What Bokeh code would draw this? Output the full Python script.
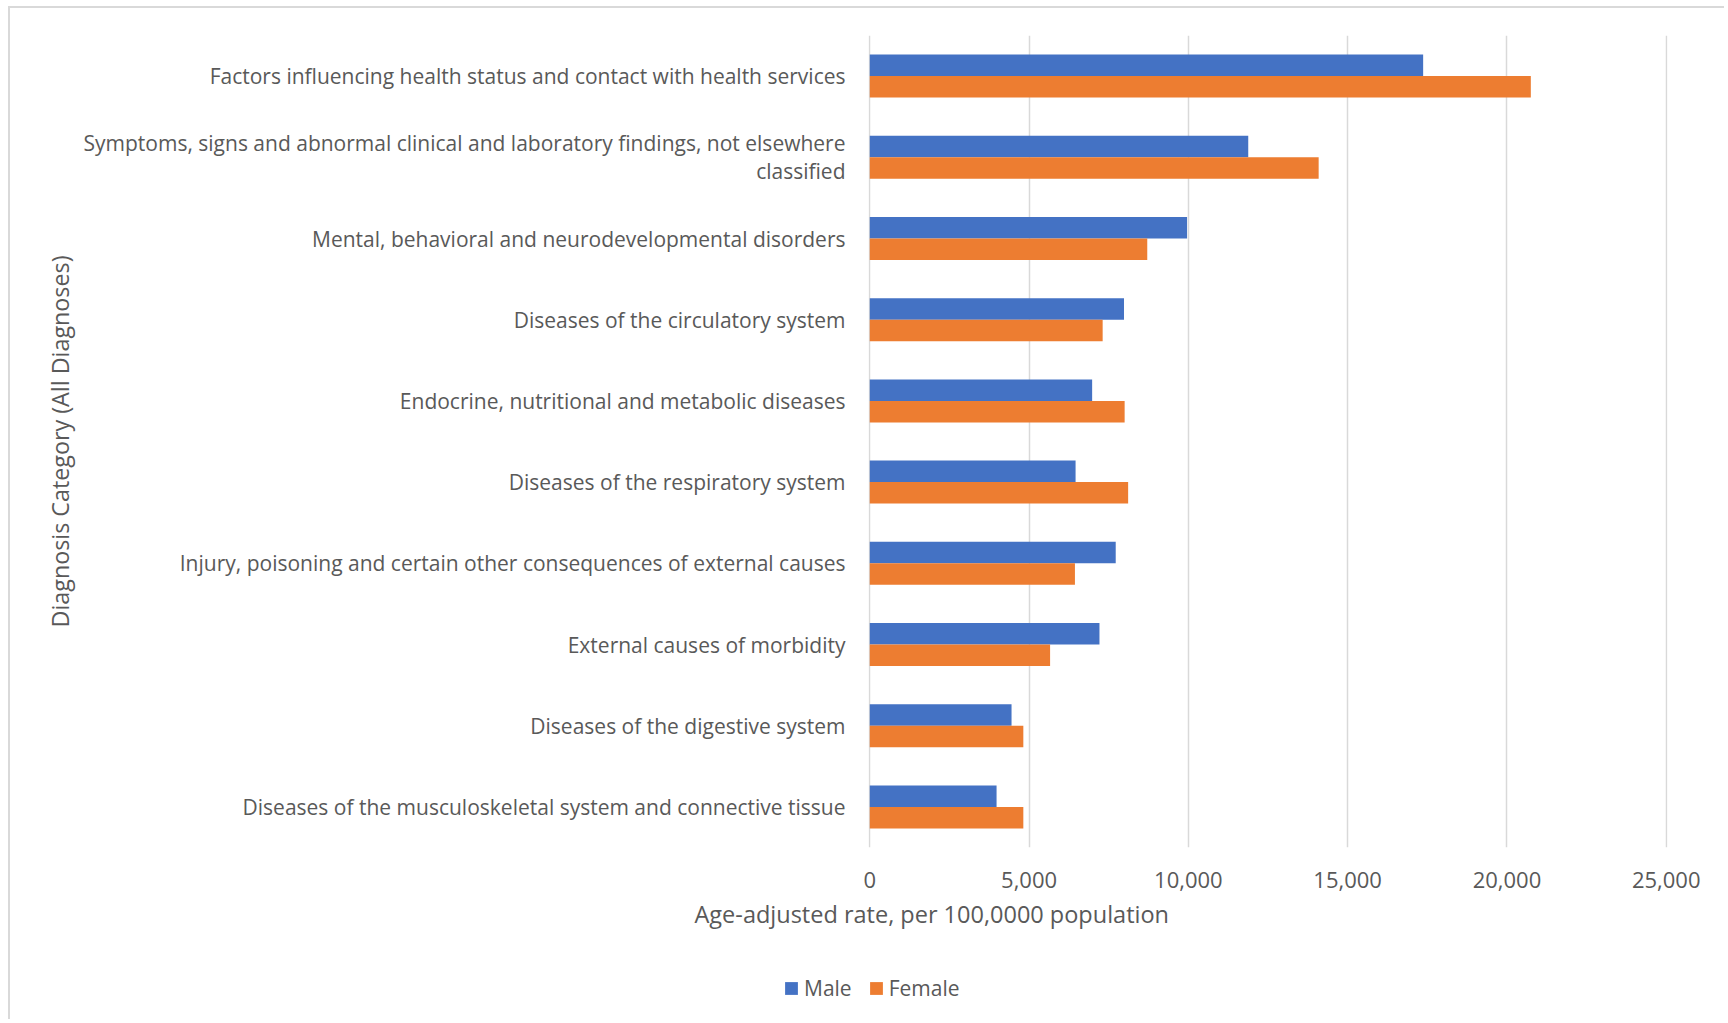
from bokeh.plotting import figure
from bokeh.models import (FactorRange, Legend, LegendItem, FixedTicker,
                          NumeralTickFormatter, Title, ColumnDataSource)
from bokeh.transform import dodge
from bokeh.embed import file_html
from bokeh.resources import INLINE

# ---- data (top to bottom as displayed) ----
categories = [
    "Factors influencing health status and contact with health services",
    "Symptoms, signs and abnormal clinical and laboratory findings, not elsewhere\nclassified",
    "Mental, behavioral and neurodevelopmental disorders",
    "Diseases of the circulatory system",
    "Endocrine, nutritional and metabolic diseases",
    "Diseases of the respiratory system",
    "Injury, poisoning and certain other consequences of external causes",
    "External causes of morbidity",
    "Diseases of the digestive system",
    "Diseases of the musculoskeletal system and connective tissue",
]
male = [17370, 11880, 9960, 7980, 6980, 6460, 7720, 7210, 4450, 3980]
female = [20750, 14090, 8710, 7310, 8000, 8110, 6440, 5660, 4820, 4820]
x_ticks = [0, 5000, 10000, 15000, 20000, 25000]
series_names = ["Male", "Female"]
colors = ["#4472C4", "#ED7D31"]
x_title = "Age-adjusted rate, per 100,0000 population"
y_title = "Diagnosis Category (All Diagnoses)"

FONT = "Open Sans"
TXT = "#595959"
W = 1716

src = ColumnDataSource(dict(cat=categories, male=male, female=female))

p = figure(
    width=W, height=962,
    y_range=FactorRange(factors=list(reversed(categories))),
    x_range=(-40, 25040),
    output_backend="svg", toolbar_location=None,
    min_border_left=858, min_border_right=59, min_border_top=27, min_border_bottom=123,
    outline_line_color=None,
    styles={"margin-left": "8px", "margin-top": "6px",
            "border-left": "2px solid #D9D9D9", "border-top": "2px solid #D9D9D9"},
)

bh = 0.265
r_m = p.hbar(y=dodge("cat", bh / 2, range=p.y_range), left=0, right="male", height=bh,
             source=src, fill_color=colors[0], line_color=None)
r_f = p.hbar(y=dodge("cat", -bh / 2, range=p.y_range), left=0, right="female", height=bh,
             source=src, fill_color=colors[1], line_color=None)

# axes
p.xaxis.ticker = FixedTicker(ticks=x_ticks)
p.xaxis.formatter = NumeralTickFormatter(format="0,0")
for ax in (p.xaxis[0], p.yaxis[0]):
    ax.axis_line_color = None
    ax.major_tick_line_color = None
    ax.minor_tick_line_color = None
    ax.major_label_text_font = FONT
    ax.major_label_text_color = TXT
    ax.major_label_text_font_size = "21px"
p.xaxis.major_label_text_font_size = "22px"
p.xaxis.major_label_standoff = 18
p.yaxis.major_label_standoff = 17
p.yaxis.major_label_text_line_height = 1.0

p.yaxis.axis_label = y_title
p.yaxis.axis_label_text_font = FONT
p.yaxis.axis_label_text_font_size = "23.3px"
p.yaxis.axis_label_text_font_style = "normal"
p.yaxis.axis_label_text_color = TXT
p.yaxis.axis_label_standoff = 5

p.ygrid.grid_line_color = None
p.xgrid.grid_line_color = "#D9D9D9"
p.xgrid.grid_line_width = 1.5

# x-axis title (placed below the axis, shifted left like the original)
p.add_layout(Title(text=x_title, align="left", offset=-174, standoff=11,
                   text_font=FONT, text_font_size="23.5px", text_font_style="normal",
                   text_color=TXT), "below")

# ---- legend strip below the chart (separate root, no frame alignment) ----
lp = figure(width=W, height=51, x_range=(0, 1), y_range=(0, 1),
            x_axis_type=None, y_axis_type=None,
            output_backend="svg", toolbar_location=None,
            min_border_left=0, min_border_right=0, min_border_top=0, min_border_bottom=0,
            outline_line_color=None,
            styles={"margin-left": "8px", "border-left": "2px solid #D9D9D9"})
# legend proxies: same series, drawn outside this strip's visible range
lm = lp.hbar(y=-5, left=0, right="male", height=0.5, source=src,
             fill_color=colors[0], line_color=None)
lf = lp.hbar(y=-5, left=0, right="female", height=0.5, source=src,
             fill_color=colors[1], line_color=None)
legend = Legend(items=[LegendItem(label=series_names[0], renderers=[lm]),
                       LegendItem(label=series_names[1], renderers=[lf])],
                location=(773, 17.3), orientation="horizontal",
                background_fill_alpha=0, border_line_color=None,
                padding=0, margin=0, spacing=16, label_standoff=5,
                glyph_width=16, glyph_height=16,
                label_text_font=FONT, label_text_font_size="21px", label_text_color=TXT)
lp.add_layout(legend)

open("out.html", "w").write(file_html([p, lp], INLINE))
